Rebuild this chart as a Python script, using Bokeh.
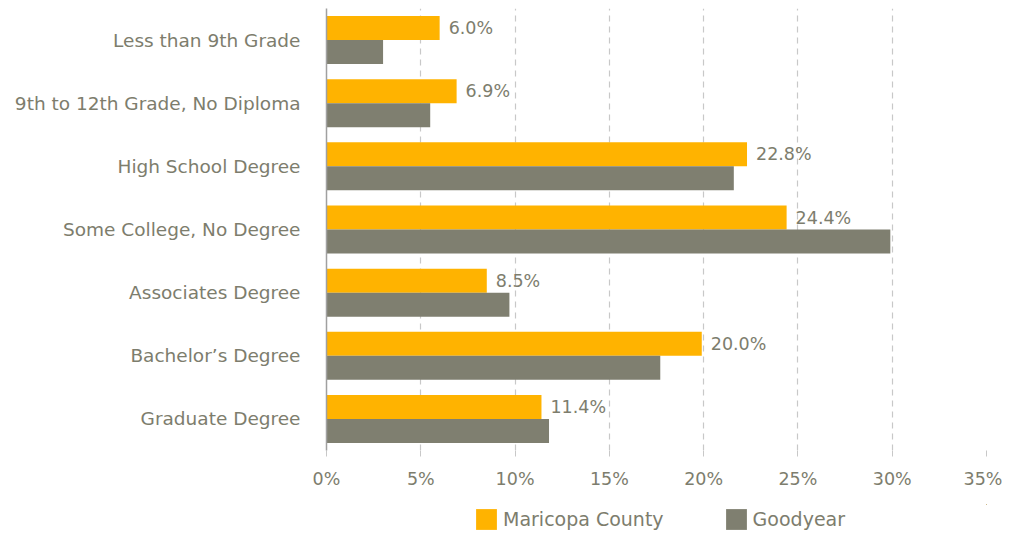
from bokeh.plotting import figure
from bokeh.layouts import column
from bokeh.models import ColumnDataSource, LabelSet, Legend, LegendItem, FixedTicker, CustomJSTickFormatter, Range1d
from bokeh.transform import dodge
from bokeh.core.properties import value
from bokeh.embed import file_html
from bokeh.resources import INLINE

categories = ["Less than 9th Grade", "9th to 12th Grade, No Diploma", "High School Degree",
              "Some College, No Degree", "Associates Degree", "Bachelor\u2019s Degree", "Graduate Degree"]
maricopa = [6.0, 6.9, 22.3, 24.4, 8.5, 19.9, 11.4]
maricopa_labels = ["6.0%", "6.9%", "22.8%", "24.4%", "8.5%", "20.0%", "11.4%"]
goodyear = [3.0, 5.5, 21.6, 29.9, 9.7, 17.7, 11.8]
series = ["Maricopa County", "Goodyear"]
x_ticks = [0, 5, 10, 15, 20, 25, 30, 35]

FONT = "DejaVu Sans"
TXT = "#7d7d6d"
ORANGE = "#FFB300"
GRAY = "#7F7F70"

src = ColumnDataSource(dict(cat=categories, m=maricopa, g=goodyear, ml=maricopa_labels))

p = figure(width=1002, height=495, y_range=list(reversed(categories)), x_range=(0, 35),
           output_backend="svg", toolbar_location=None,
           min_border_left=326, min_border_right=16, min_border_top=8, min_border_bottom=45)
p.outline_line_color = None

r1 = p.hbar(y=dodge("cat", 0.19, range=p.y_range), right="m", left=0, height=0.38,
            source=src, color=ORANGE, line_color=None)
r2 = p.hbar(y=dodge("cat", -0.19, range=p.y_range), right="g", left=0, height=0.38,
            source=src, color=GRAY, line_color=None)

labels = LabelSet(x="m", y=dodge("cat", 0.19, range=p.y_range), text="ml", source=src,
                  x_offset=9, text_baseline="middle", text_align="left",
                  text_font=value(FONT), text_font_size="17.5px", text_color=TXT)
p.add_layout(labels)

p.xaxis.ticker = FixedTicker(ticks=x_ticks)
p.xaxis.formatter = CustomJSTickFormatter(code="return tick + '%';")
p.xaxis.axis_line_color = None
p.xaxis.major_tick_line_color = "#c8c8c8"
p.xaxis.major_tick_in = 0
p.xaxis.major_tick_out = 6
p.xaxis.minor_tick_line_color = None
p.xaxis.major_label_text_font = FONT
p.xaxis.major_label_text_font_size = "17.5px"
p.xaxis.major_label_text_color = TXT
p.xaxis.major_label_standoff = 12

p.yaxis.axis_line_color = "#a0a0a0"
p.yaxis.axis_line_width = 1.5
p.yaxis.major_tick_line_color = None
p.yaxis.minor_tick_line_color = None
p.yaxis.major_label_text_font = FONT
p.yaxis.major_label_text_font_size = "18.5px"
p.yaxis.major_label_text_color = TXT
p.yaxis.major_label_standoff = 20

p.ygrid.grid_line_color = None
p.xgrid.grid_line_color = "#c8c8c8"
p.xgrid.grid_line_dash = "6 5"
p.xgrid.grid_line_width = 1.2

# legend strip below the chart (its bars lie outside its visible ranges; only swatches show)
lg = figure(width=1002, height=38, x_range=Range1d(-20, -10), y_range=Range1d(-20, -10),
            output_backend="svg", toolbar_location=None,
            min_border_left=326, min_border_right=16, min_border_top=9, min_border_bottom=0)
lg.outline_line_color = None
lg.axis.visible = False
lg.grid.visible = False
lr1 = lg.hbar(y="m", right="m", left=0, height=0.5, source=src, color=ORANGE, line_color=None)
lr2 = lg.hbar(y="g", right="g", left=0, height=0.5, source=src, color=GRAY, line_color=None)
legend = Legend(items=[LegendItem(label=series[0], renderers=[lr1]),
                       LegendItem(label=series[1], renderers=[lr2])],
                orientation="horizontal", location=(147, 1),
                label_text_font=FONT, label_text_font_size="19px", label_text_color=TXT,
                glyph_width=26, glyph_height=26, spacing=59, label_standoff=4,
                border_line_color=None, background_fill_alpha=0, padding=0, margin=0)
lg.add_layout(legend, "center")

layout = column(p, lg, spacing=0)
open("out.html", "w").write(file_html(layout, INLINE))
